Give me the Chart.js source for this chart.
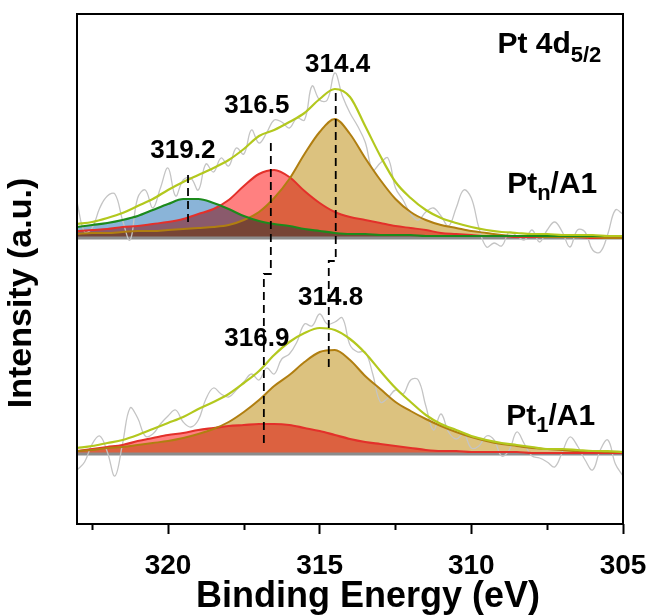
<!DOCTYPE html>
<html>
<head>
<meta charset="utf-8">
<script src="https://cdn.jsdelivr.net/npm/chart.js@4.4.0/dist/chart.umd.min.js"></script>
<style>
  html, body { margin: 0; padding: 0; background: #fff; }
  #wrap { width: 647px; height: 615px; }
</style>
</head>
<body>
<div id="wrap"><canvas id="xps" width="647" height="615"></canvas></div>
<script>
/* ---------- data (intensity above each spectrum's own baseline, a.u.) ---------- */
const ENERGY = [323, 322.5, 322, 321.5, 321, 320.5, 320, 319.5, 319, 318.5, 318, 317.5, 317, 316.5, 316, 315.5, 315, 314.5, 314, 313.5,
    313, 312.5, 312, 311.5, 311, 310.5, 310, 309.5, 309, 308.5, 308, 307.5, 307, 306.5, 306, 305.5, 305];

const ENERGY_RAW = [323, 322.75, 322.5, 322.25, 322, 321.75, 321.5, 321.25, 321, 320.75, 320.5, 320.25, 320, 319.75, 319.5, 319.25,
    319, 318.75, 318.5, 318.25, 318, 317.75, 317.5, 317.25, 317, 316.75, 316.5, 316.25, 316, 315.75, 315.5, 315.25, 315, 314.75,
    314.5, 314.25, 314, 313.75, 313.5, 313.25, 313, 312.75, 312.5, 312.25, 312, 311.75, 311.5, 311.25, 311, 310.75, 310.5, 310.25,
    310, 309.75, 309.5, 309.25, 309, 308.75, 308.5, 308.25, 308, 307.75, 307.5, 307.25, 307, 306.75, 306.5, 306.25, 306, 305.75,
    305.5, 305.25, 305];

const X_TICKS = [305, 307.5, 310, 312.5, 315, 317.5, 320, 322.5];

// Pt_n/A1 (upper spectrum)
const TOP_OFFSET = 286;
const topRaw = [36, 6, 10, 30, 42, 44, 18, -2, 40, 48, 30, 50, 70, 42, 58, 60, 48, 74, 66, 80, 72, 90, 84, 108, 95, 105, 118, 116,
    110, 120, 118, 152, 138, 138, 165, 142, 125, 112, 96, 68, 75, 80, 50, 38, 24, 18, 26, 30, 22, 12, 30, 48, 40, 10, -9, -5, -8,
    6, 2, -2, 8, -4, 8, 16, 6, -9, 8, 6, -12, -14, 4, 28, 24];
const topFit = [14, 16, 20, 25, 32, 39, 48, 56, 63, 70, 78, 89, 102, 108, 116, 125, 139, 149, 141, 112, 82, 56, 40, 28, 20, 15, 11, 8,
    6, 5, 4, 4, 3, 3, 3, 2, 2];
const top3192 = [11, 13, 15, 18, 22, 28, 34, 39, 39, 35, 29, 22, 17, 14, 12, 9, 7, 5, 4, 4, 3, 3, 3, 2, 2, 2, 2, 2, 2, 2, 2, 2, 2, 2, 2, 2, 2];
const top3165 = [7, 8, 9, 11, 12, 14, 16, 19, 24, 29, 38, 52, 64, 68, 61, 47, 35, 26, 21, 18, 15, 12, 10, 8, 5, 4, 3, 2, 2, 1, 1, 1, 1, 1, 0, 0, 0];
const top3144 = [4, 5, 5, 6, 7, 7, 8, 9, 10, 11, 13, 18, 26, 40, 59, 84, 106, 119, 104, 80, 58, 39, 26, 18, 13, 10, 7, 5, 3, 2, 2, 1, 1, 1, 1, 0, 0];

// Pt_1/A1 (lower spectrum)
const BOT_OFFSET = 70;
const botRaw = [-16, -8, 10, 18, 2, -22, 10, 46, 36, 18, 20, 30, 38, 44, 32, 27, 34, 55, 66, 60, 57, 64, 72, 80, 74, 86, 80, 95,
    100, 112, 130, 128, 140, 130, 132, 136, 109, 102, 102, 80, 52, 56, 64, 60, 74, 74, 48, 24, 40, 22, 15, 20, 6, 8, 18, 14, -2,
    4, 22, 10, -2, -4, -8, -13, 2, 17, 8, -6, -16, 4, 14, -10, -22];
const botFit = [6, 8, 11, 14, 19, 25, 31, 37, 45, 52, 60, 71, 83, 99, 112, 121, 126, 124, 115, 101, 83, 66, 52, 39, 30, 24, 18, 14,
    11, 9, 7, 5, 5, 4, 3, 3, 2];
const bot3169 = [3, 5, 7, 9, 13, 16, 19, 21, 24, 26, 28, 29, 30, 30, 29, 26, 23, 19, 15, 12, 10, 8, 6, 4, 3, 3, 2, 2, 2, 2, 1, 1, 1, 1, 1, 1, 1];
const bot3148 = [3, 4, 6, 7, 9, 11, 13, 16, 20, 25, 32, 42, 54, 68, 79, 92, 102, 104, 94, 78, 65, 52, 43, 35, 28, 22, 17, 13, 10, 8,
    6, 5, 4, 3, 3, 2, 2];

// dashed guides at the peak positions (eV, absolute intensity)
const guide3192Ev = [319.34, 319.34];
const guide3192Y = [349, 297];
const guide316Ev = [316.61, 316.61, 316.84, 316.84];
const guide316Y = [381, 250, 250, 77];
const guide314Ev = [314.47, 314.47, 314.70, 314.70];
const guide314Y = [431, 263, 263, 152];

const PEAK_TEXT = ['319.2', '316.5', '314.4', '316.9', '314.8'];

/* ---------- layout / style ---------- */
const FONT = "'Liberation Sans', Arial, Helvetica, sans-serif";
const LABEL_AT = [
    { ev: 319.51, y: 373 }, { ev: 317.07, y: 418 }, { ev: 314.41, y: 459 },
    { ev: 317.07, y: 185 }, { ev: 314.64, y: 226 },
];

const pts = (xs, ys, off = 0) => xs.map((x, i) => ({ x, y: ys[i] + off }));

function curve(label, xs, ys, off, color, width, fillColor) {
    return {
        label,
        data: pts(xs, ys, off),
        borderColor: color,
        borderWidth: width,
        backgroundColor: fillColor || 'transparent',
        fill: fillColor ? { value: off } : false,
        pointRadius: 0,
        cubicInterpolationMode: 'monotone',
    };
}

function guide(label, xs, ys) {
    return {
        label, data: pts(xs, ys), borderColor: '#000', borderWidth: 1.8,
        borderDash: [8, 5], pointRadius: 0, tension: 0, fill: false,
    };
}

const datasets = [
    guide('g319', guide3192Ev, guide3192Y),
    guide('g316', guide316Ev, guide316Y),
    guide('g314', guide314Ev, guide314Y),
    curve('top fit', ENERGY, topFit, TOP_OFFSET, '#b3c81e', 2.2),
    curve('bot fit', ENERGY, botFit, BOT_OFFSET, '#b3c81e', 2.2),
    curve('319.2', ENERGY, top3192, TOP_OFFSET, '#1c8a1c', 2.2, '#8ab4d8'),
    curve('314.4', ENERGY, top3144, TOP_OFFSET, '#b07e10', 2, '#dcc27f'),
    curve('314.8', ENERGY, bot3148, BOT_OFFSET, '#b07e10', 2, '#dcc27f'),
    curve('316.5', ENERGY, top3165, TOP_OFFSET, '#e3302a', 2, '#ff8080'),
    curve('316.9', ENERGY, bot3169, BOT_OFFSET, '#e3302a', 2.2, '#ff8080'),
    { label: 'top raw', data: pts(ENERGY_RAW, topRaw, TOP_OFFSET), borderColor: '#c4c4c4', borderWidth: 1.3,
      pointRadius: 0, tension: 0.4, fill: false },
    { label: 'bot raw', data: pts(ENERGY_RAW, botRaw, BOT_OFFSET), borderColor: '#c4c4c4', borderWidth: 1.3,
      pointRadius: 0, tension: 0.4, fill: false },
    { label: 'top base', data: pts([323, 305], [0, 0], TOP_OFFSET), borderColor: '#8c8c8c', borderWidth: 3, pointRadius: 0, fill: false },
    { label: 'bot base', data: pts([323, 305], [0, 0], BOT_OFFSET), borderColor: '#8c8c8c', borderWidth: 3, pointRadius: 0, fill: false },
];

function drawSubText(ctx, parts, x, y) {
    // parts: [text, size, dy]
    ctx.textAlign = 'left';
    ctx.textBaseline = 'alphabetic';
    let cx = x;
    parts.forEach(([t, size, dy]) => {
        ctx.font = `bold ${size}px ${FONT}`;
        ctx.fillText(t, cx, y + dy);
        cx += ctx.measureText(t).width;
    });
}

const xpsPlugin = {
    id: 'xpsDecor',
    // fills overlap like transparent layers
    beforeDraw(chart) { chart.ctx.globalCompositeOperation = 'multiply'; },
    beforeDatasetDraw(chart) { chart.ctx.globalCompositeOperation = 'source-over'; },
    afterDatasetsDraw(chart) { chart.ctx.globalCompositeOperation = 'source-over'; },
    afterDraw(chart) {
        const { ctx, chartArea: a, scales: { x, y } } = chart;
        ctx.save();
        ctx.globalCompositeOperation = 'source-over';
        ctx.strokeStyle = '#000';
        ctx.lineWidth = 2;
        ctx.strokeRect(a.left, a.top, a.right - a.left, a.bottom - a.top);

        // minor ticks
        X_TICKS.filter(v => v % 5 !== 0).forEach(v => {
            const px = Math.round(x.getPixelForValue(v)) + 0.5;
            ctx.beginPath();
            ctx.moveTo(px, a.bottom);
            ctx.lineTo(px, a.bottom + 6);
            ctx.stroke();
        });

        ctx.fillStyle = '#000';
        ctx.textAlign = 'center';
        ctx.textBaseline = 'middle';
        ctx.font = `bold 26px ${FONT}`;
        PEAK_TEXT.forEach((t, i) => {
            ctx.fillText(t, x.getPixelForValue(LABEL_AT[i].ev), y.getPixelForValue(LABEL_AT[i].y));
        });

        drawSubText(ctx, [['Pt 4d', 30, 0], ['5/2', 22, 9]], x.getPixelForValue(309.14), y.getPixelForValue(471));
        drawSubText(ctx, [['Pt', 30, 0], ['n', 22, 7], ['/A1', 30, 0]], x.getPixelForValue(308.82), y.getPixelForValue(331));
        drawSubText(ctx, [['Pt', 30, 0], ['1', 22, 7], ['/A1', 30, 0]], x.getPixelForValue(308.85), y.getPixelForValue(99));

        // axis titles
        ctx.textAlign = 'center';
        ctx.textBaseline = 'middle';
        ctx.font = `bold 36px ${FONT}`;
        ctx.fillText('Binding Energy (eV)', 368, 597);
        ctx.font = `bold 34px ${FONT}`;
        ctx.translate(22, 293);
        ctx.rotate(-Math.PI / 2);
        ctx.fillText('Intensity (a.u.)', 0, 0);
        ctx.restore();
    },
};

new Chart(document.getElementById('xps'), {
    type: 'line',
    data: { datasets },
    options: {
        responsive: false,
        animation: false,
        layout: { padding: { left: 77, right: 24, top: 14, bottom: 0 } },
        plugins: {
            legend: { display: false },
            tooltip: { enabled: false },
            filler: { drawTime: 'beforeDatasetsDraw' },
        },
        scales: {
            x: {
                type: 'linear',
                reverse: true,
                min: 305,
                max: 323,
                afterBuildTicks: s => { s.ticks = X_TICKS.map(v => ({ value: v })); },
                afterFit: s => { s.height = 91; },
                border: { display: false },
                grid: {
                    drawOnChartArea: false,
                    tickLength: 10,
                    tickWidth: 2,
                    tickColor: c => (c.tick && c.tick.value % 5 === 0 ? '#000' : 'transparent'),
                },
                ticks: {
                    color: '#000',
                    padding: 15,
                    maxRotation: 0,
                    autoSkip: false,
                    font: { family: FONT, size: 28, weight: 'bold' },
                    callback: v => (v % 5 === 0 ? String(v) : ''),
                },
            },
            y: { display: false, min: 0, max: 510 },
        },
    },
    plugins: [xpsPlugin],
});
</script>
</body>
</html>
